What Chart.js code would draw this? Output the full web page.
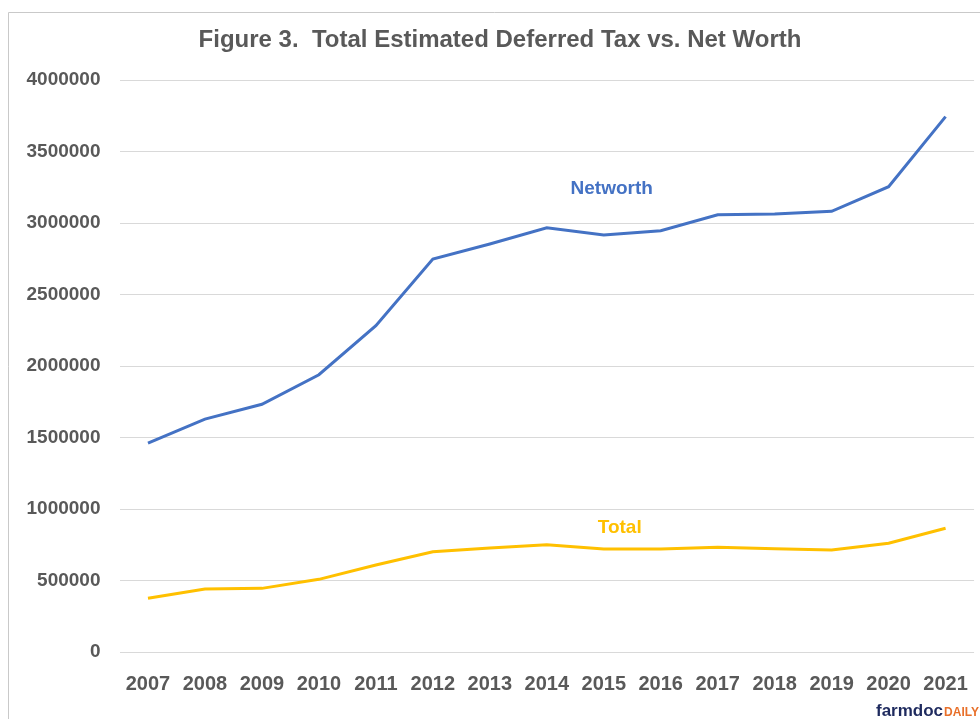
<!DOCTYPE html>
<html>
<head>
<meta charset="utf-8">
<title>Figure 3</title>
<script src="https://cdn.jsdelivr.net/npm/chart.js@4/dist/chart.umd.min.js"></script>
<style>
  html, body { margin: 0; padding: 0; background: #fff; }
  #wrap { width: 980px; height: 719px; position: relative; }
</style>
</head>
<body>
<div id="wrap"><canvas id="myChart"></canvas></div>
<script>
const years = ['2007', '2008', '2009', '2010', '2011', '2012', '2013', '2014',
  '2015', '2016', '2017', '2018', '2019', '2020', '2021'];

const networth = [1461000, 1629000, 1732000, 1939000, 2282000, 2748000, 2853000, 2967000,
  2916000, 2946000, 3058000, 3063000, 3082000, 3254000, 3744000];

const total = [375500, 440600, 445000, 508000, 608000, 701600, 727000, 750600,
  720300, 720000, 732000, 722000, 713000, 760000, 865000];

const yTicks = [0, 500000, 1000000, 1500000, 2000000, 2500000, 3000000, 3500000, 4000000];

const BLUE = '#4472C4';
const GOLD = '#FFC000';
const GREY = '#595959';
const FONT = '"Liberation Sans", Arial, sans-serif';

const titleText = 'Figure 3.  Total Estimated Deferred Tax vs. Net Worth';

// where the inline series names sit (category index, value)
const seriesLabels = [
  { text: 'Networth', at: 8.14, value: 3240000, color: BLUE },
  { text: 'Total', at: 8.28, value: 870000, color: GOLD }
];

const extras = {
  id: 'extras',
  beforeDraw(chart) {
    const c = chart.ctx;
    c.save();
    c.strokeStyle = '#c9c9c9';
    c.lineWidth = 1;
    c.beginPath();
    c.moveTo(8.5, 730);
    c.lineTo(8.5, 12.5);
    c.lineTo(990, 12.5);
    c.stroke();
    // title, centred on the figure rather than the canvas padding box
    c.font = 'bold 24px ' + FONT;
    c.fillStyle = GREY;
    c.textAlign = 'center';
    c.textBaseline = 'middle';
    c.fillText(titleText, 500, 40);
    c.restore();
  },
  afterDatasetsDraw(chart) {
    const c = chart.ctx;
    const xs = chart.scales.x, ys = chart.scales.y;
    c.save();
    c.font = 'bold 19px ' + FONT;
    c.textAlign = 'center';
    c.textBaseline = 'middle';
    seriesLabels.forEach(l => {
      c.fillStyle = l.color;
      c.fillText(l.text, xs.getPixelForValue(l.at), ys.getPixelForValue(l.value));
    });
    // farmdocDAILY mark
    c.textAlign = 'left';
    c.textBaseline = 'alphabetic';
    c.font = 'bold 17px ' + FONT;
    c.fillStyle = '#1e2a5e';
    c.fillText('farmdoc', 876, 716);
    const w = c.measureText('farmdoc').width;
    c.font = 'bold 12px ' + FONT;
    c.fillStyle = '#e8702a';
    c.fillText('DAILY', 876 + w + 1, 716);
    c.restore();
  }
};

const ctx = document.getElementById('myChart').getContext('2d');
const myChart = new Chart(ctx, {
  type: 'line',
  data: {
    labels: years,
    datasets: [
      {
        label: 'Networth',
        data: networth,
        borderColor: BLUE,
        backgroundColor: BLUE,
        borderWidth: 3,
        pointRadius: 0,
        tension: 0
      },
      {
        label: 'Total',
        data: total,
        borderColor: GOLD,
        backgroundColor: GOLD,
        borderWidth: 3,
        pointRadius: 0,
        tension: 0
      }
    ]
  },
  options: {
    responsive: true,
    maintainAspectRatio: false,
    animation: false,
    layout: { padding: { left: 0, right: 5, top: 80, bottom: 0 } },
    plugins: {
      legend: { display: false },
      tooltip: { enabled: false },
      title: { display: false }
    },
    scales: {
      x: {
        offset: true,
        grid: { display: false },
        border: { display: false },
        ticks: {
          color: GREY,
          padding: 12,
          maxRotation: 0,
          autoSkip: false,
          font: { family: FONT, size: 20, weight: 'bold' }
        },
        afterFit(scale) { scale.height = 67; }
      },
      y: {
        min: 0,
        max: 4000000,
        afterBuildTicks(scale) { scale.ticks = yTicks.map(v => ({ value: v })); },
        grid: { color: '#d9d9d9', lineWidth: 1, drawTicks: false },
        border: { display: false },
        ticks: {
          color: GREY,
          padding: 19,
          callback: v => String(v),
          font: { family: FONT, size: 19, weight: 'bold' }
        },
        afterFit(scale) { scale.width = 119.5; }
      }
    }
  },
  plugins: [extras]
});
</script>
</body>
</html>
